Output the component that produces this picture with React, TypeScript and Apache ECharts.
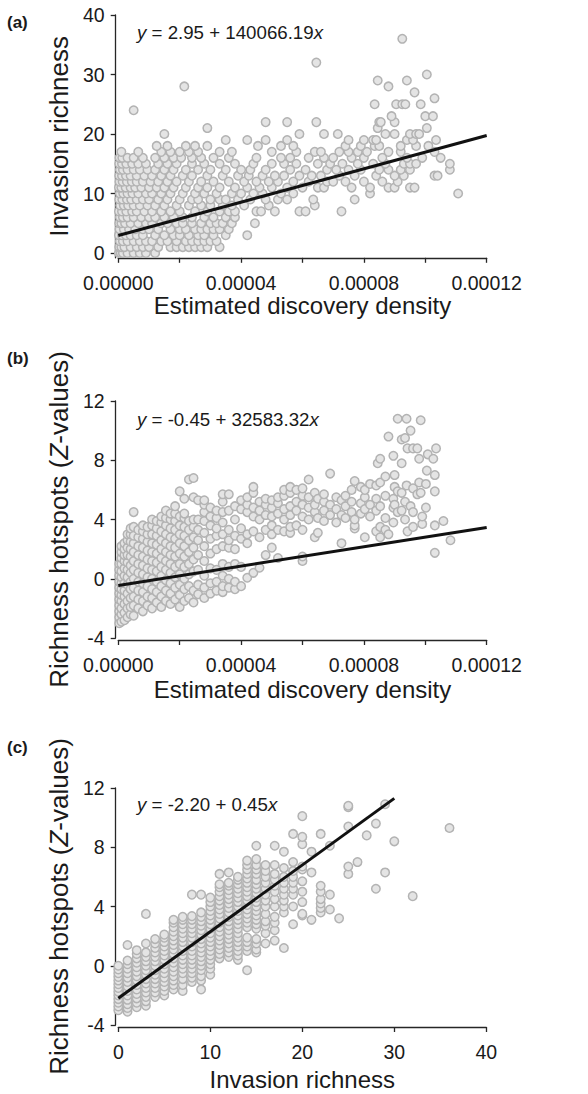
import React, { useEffect, useRef } from "react";
import * as echarts from "echarts";

const FONT = '"Liberation Sans", Arial, Helvetica, sans-serif';

// ---------- Panel (a): invasion richness rows; densities in units of 1e-6 ----------
const aRows: [number, number[]][] = [
  [0, [0.2, 0.8, 1.5, 3, 5, 7, 9, 12]],
  [1, [0.3, 1, 2, 4, 6, 8, 10, 13, 17, 19, 21, 23, 25, 27, 29, 33]],
  [2, [0.5, 1.5, 3, 5, 7, 9, 11, 14, 16, 19, 22, 24, 26, 28, 30, 32]],
  [3, [0.2, 1.2, 2.5, 4, 6, 8, 12, 15, 18, 20, 23, 26, 28, 31, 35, 42]],
  [4, [0.4, 1.8, 3.5, 5.5, 8, 10, 13, 17, 20, 22, 25, 27, 29, 31, 33, 36]],
  [5, [0.3, 1, 2.2, 4, 6.5, 9, 11, 14, 16, 19, 21, 24, 27, 30, 32, 34, 37, 44.5]],
  [6, [0.5, 1.5, 3, 5, 7.5, 10, 12, 15, 18, 21, 24, 28, 31, 35, 38]],
  [7, [0.2, 1.2, 2.6, 4.5, 6, 8.5, 11, 14, 17, 20, 25, 29, 33, 36, 38, 45, 46.5, 51, 59, 61, 72.7]],
  [8, [0.6, 1.8, 3.2, 5, 7, 9.5, 12, 15, 19, 23, 27, 30, 34, 37, 41, 49, 64]],
  [9, [0.3, 1.3, 2.8, 4.2, 6, 8, 10, 13, 16, 20, 24, 26, 30, 33, 35, 39, 43, 48, 52, 55, 63.5, 77]],
  [10, [0.5, 1.6, 3, 4.6, 6.5, 9, 11, 14, 17, 21, 25, 28, 32, 37, 40, 44, 47, 53, 57, 82, 110.7]],
  [11, [0.2, 1, 2.4, 4, 5.5, 7.5, 10, 12.5, 15, 18, 22, 26, 29, 33, 38, 42, 46, 50, 55, 60, 65, 67, 76, 82, 88, 90, 95, 96.5]],
  [12, [0.4, 1.4, 2.8, 4.4, 6, 8, 10.5, 13, 16, 19, 23, 27, 31, 36, 41, 45, 49, 52, 57, 62, 68, 70, 74, 80, 86, 91]],
  [13, [0.3, 1.2, 2.5, 4, 6, 8.5, 11, 14, 17, 21, 24, 29, 34, 39, 42.5, 47, 51, 54, 59, 63, 66, 72, 77, 84, 90, 93, 103, 104]],
  [14, [0.5, 1.5, 3, 5, 7, 9.5, 12, 15, 18, 22, 26, 30, 35, 40, 43, 48, 56, 61, 68, 71, 75, 79, 85, 88, 92, 95, 108]],
  [15, [0.3, 1.2, 2.6, 4.5, 6.5, 9, 13, 16, 19, 24, 28, 33, 38, 44, 50, 54, 58, 65, 69, 73, 78, 83, 87, 93, 95, 97, 108]],
  [16, [0.4, 1.3, 3, 5, 8, 12, 15, 18, 20.5, 24, 27, 31, 36, 45, 53, 56, 62, 67, 70, 76, 80, 86, 94, 99, 105]],
  [17, [1, 6.5, 14, 17, 20, 23, 26, 33, 37, 50, 58, 64, 66, 72, 75, 78, 81, 88, 92, 103]],
  [18, [12.5, 16, 22, 25, 29, 45.5, 53, 57, 74, 79, 83.5, 85, 92, 97, 101]],
  [19, [35, 42, 48, 55, 75, 80, 83, 84, 94, 96, 103.5]],
  [20, [15, 59, 67, 71.5, 87, 90, 95, 97, 98]],
  [21, [29, 84.5, 100.5]],
  [22, [48, 55, 64.5, 85, 85.5, 90]],
  [23, [89, 100, 102.5]],
  [24, [5]],
  [25, [83.5, 90.5, 92.5, 93.5, 98.5]],
  [26, [103]],
  [27, [96.5]],
  [28, [21.5, 88]],
  [29, [84.5, 94]],
  [30, [100.5]],
  [32, [64.5]],
  [36, [92.5]],
];

// ---------- Panel (b): columns by density (1e-6) with Z-values ----------
const bCols: [number, number[]][] = [
  [0.3, [-3.0, -2.6, -2.2, -1.8, -1.4, -1.0, -0.6, -0.2, 0.2, 0.6, 1.0]],
  [1, [-2.9, -2.4, -2.0, -1.5, -1.1, -0.7, -0.3, 0.1, 0.5, 1.0, 1.4, 1.8, 2.2]],
  [2, [-2.8, -2.3, -1.7, -1.2, -0.8, -0.3, 0.2, 0.7, 1.2, 1.6, 2.0, 2.4]],
  [3, [-2.6, -2.0, -1.5, -1.0, -0.4, 0.1, 0.6, 1.1, 1.6, 2.1, 2.6, 3.0]],
  [4, [-2.4, -1.9, -1.3, -0.7, -0.2, 0.4, 0.9, 1.5, 2.0, 2.5, 3.0, 3.4]],
  [5, [-2.5, -1.8, -1.2, -0.6, 0, 0.6, 1.2, 1.8, 2.4, 2.9, 3.5, 4.5]],
  [6.5, [-2.0, -1.4, -0.8, -0.2, 0.4, 1.0, 1.6, 2.2, 2.8, 3.3]],
  [8, [-2.2, -1.5, -0.9, -0.3, 0.3, 0.9, 1.5, 2.1, 2.7, 3.2, 3.6]],
  [9.5, [-1.8, -1.2, -0.5, 0.1, 0.7, 1.3, 1.9, 2.5, 3.0, 3.5]],
  [11, [-2.0, -1.3, -0.7, 0, 0.6, 1.2, 1.8, 2.4, 3.0, 3.6, 4.0]],
  [12.5, [-1.6, -0.9, -0.2, 0.5, 1.1, 1.7, 2.3, 2.9, 3.4, 3.9]],
  [14, [-1.9, -1.2, -0.5, 0.2, 0.8, 1.4, 2.0, 2.6, 3.2, 3.8, 4.2]],
  [15.5, [-1.5, -0.8, -0.1, 0.6, 1.2, 1.8, 2.4, 3.0, 3.6, 4.1, 4.6]],
  [17, [-1.7, -1.0, -0.3, 0.4, 1.0, 1.6, 2.2, 2.8, 3.4, 4.0, 4.4]],
  [18.5, [-1.4, -0.6, 0.1, 0.8, 1.5, 2.1, 2.7, 3.3, 3.9, 4.4, 4.9]],
  [20, [-1.9, -1.1, -0.4, 0.3, 1.0, 1.7, 2.4, 3.0, 3.6, 4.2, 5.9]],
  [21.5, [-1.5, -0.7, 0, 0.8, 1.5, 2.2, 2.9, 3.5, 4.1, 4.4, 5.4]],
  [23, [-1.3, -0.5, 0.3, 1.0, 1.8, 2.6, 3.3, 3.9, 6.7]],
  [24.5, [-1.6, -0.8, 0.5, 1.3, 2.1, 2.8, 3.5, 4.0, 5.5, 6.8]],
  [26, [-1.05, -0.4, 0.6, 1.6, 2.6, 3.3, 4.0, 5.3]],
  [28, [-1.3, -0.6, 0.2, 1.2, 2.2, 3.1, 3.9, 4.5, 5.0, 5.3]],
  [30, [-1.0, -0.3, 0.7, 1.7, 2.7, 3.6, 4.2, 4.8]],
  [32, [-0.8, -0.2, 0.6, 2.0, 2.9, 3.4, 4.1, 4.6]],
  [34, [-0.9, -0.5, 0.2, 1.0, 2.2, 3.0, 3.8, 4.5, 5.2, 5.7]],
  [36, [-0.6, 0.0, 0.8, 2.1, 2.6, 3.3, 4.6, 5.7]],
  [38, [-0.7, -0.2, 1.0, 2.0, 2.9, 4.0, 4.9]],
  [40, [-0.5, 0.8, 2.7, 3.4, 4.7, 5.3]],
  [42, [0.07, 2.4, 3.0, 4.5, 5.0, 5.5]],
  [44, [0.4, 3.2, 4.2, 4.8, 5.8, 6.2]],
  [46, [0.74, 2.8, 4.0, 4.6, 5.2]],
  [48, [1.6, 3.3, 4.3, 5.0, 5.4]],
  [50, [2.1, 3.0, 3.6, 4.2, 4.8, 5.3]],
  [52, [1.4, 3.3, 4.4, 5.1, 5.5]],
  [54, [3.2, 4.0, 4.7, 5.6, 6.0]],
  [56, [3.1, 3.5, 4.3, 4.9, 5.8, 6.2]],
  [58, [3.6, 4.6, 5.2, 6.0]],
  [60, [1.2, 1.5, 3.3, 4.2, 5.0, 5.6, 6.1]],
  [62, [4.0, 4.8, 5.5, 6.7]],
  [64, [2.8, 4.5, 5.0, 5.8]],
  [65, [3.1, 4.1, 5.4]],
  [67, [3.9, 4.6, 5.2, 5.7]],
  [69, [4.3, 5.0, 7.1]],
  [71, [3.8, 4.7, 5.5]],
  [72.7, [2.4, 4.3, 5.3]],
  [74, [4.1, 4.9, 5.6]],
  [76, [4.5, 5.2, 6.0]],
  [77, [3.4, 3.6, 4.0, 6.6]],
  [79, [4.4, 5.1, 6.2]],
  [80.3, [2.8, 4.7, 5.5, 6.0]],
  [82, [4.2, 5.0, 6.4]],
  [84, [3.2, 4.6, 5.4, 6.3]],
  [84.5, [7.8]],
  [85.3, [2.8, 3.5, 4.9, 6.5, 8.1]],
  [87, [3.3, 4.1, 5.6, 6.9]],
  [88, [3.0, 9.6]],
  [89.6, [3.8, 4.8, 5.4, 8.3]],
  [90, [5.0, 6.2, 7.0]],
  [91, [4.5, 5.9, 10.8]],
  [92.3, [4.6, 5.8, 7.8, 9.4]],
  [93.4, [4.0, 5.2, 9.5]],
  [93.9, [6.3, 10.8]],
  [94.2, [3.2, 8.8]],
  [95.2, [4.9, 10.0]],
  [96, [3.5, 4.5, 6.1, 8.8]],
  [97.4, [5.7, 8.8]],
  [98, [6.5, 8.1]],
  [98.5, [5.8, 10.7]],
  [99, [3.7, 4.2]],
  [100.2, [4.8, 6.4]],
  [100.5, [7.3]],
  [100.8, [8.4]],
  [102.6, [8.1]],
  [103.1, [1.75, 3.6, 5.9, 7.0]],
  [103.5, [8.8]],
  [105.9, [3.9]],
  [108.2, [2.6]],
];

// ---------- Panel (c): columns by invasion richness with Z-values ----------
const cCols: [number, number[]][] = [
  [0, [-3.0, -2.75, -2.5, -2.25, -2.0, -1.75, -1.5, -1.25, -1.0, -0.75, -0.5, -0.25, 0.0]],
  [1, [-3.1, -2.85, -2.6, -2.3, -2.0, -1.7, -1.4, -1.1, -0.8, -0.5, -0.2, 0.1, 0.35, 1.4]],
  [2, [-2.8, -2.5, -2.2, -1.9, -1.6, -1.3, -1.0, -0.7, -0.4, -0.1, 0.2, 0.5, 0.8, 1.05]],
  [3, [-2.7, -2.4, -2.1, -1.8, -1.5, -1.2, -0.9, -0.6, -0.3, 0.0, 0.3, 0.6, 0.9, 1.5, 3.5]],
  [4, [-2.1, -1.8, -1.5, -1.2, -0.9, -0.6, -0.3, 0.0, 0.3, 0.6, 0.9, 1.2, 1.5, 1.8]],
  [5, [-2.0, -1.7, -1.4, -1.1, -0.8, -0.5, -0.2, 0.1, 0.4, 0.7, 1.0, 1.3, 1.6, 1.9, 2.1]],
  [6, [-1.6, -1.3, -1.0, -0.7, -0.4, -0.1, 0.2, 0.5, 0.8, 1.1, 1.4, 1.7, 2.0, 2.3, 2.6, 2.9, 3.1]],
  [7, [-1.7, -1.3, -0.9, -0.5, -0.2, 0.1, 0.4, 0.7, 1.0, 1.3, 1.6, 1.9, 2.2, 2.5, 2.8, 3.1, 3.3]],
  [8, [-1.1, -0.8, -0.5, -0.2, 0.1, 0.4, 0.7, 1.0, 1.3, 1.6, 1.9, 2.2, 2.5, 2.8, 3.1, 3.35, 4.8]],
  [9, [-1.6, -1.0, -0.7, -0.3, 0.0, 0.3, 0.6, 0.9, 1.2, 1.5, 1.8, 2.1, 2.4, 2.7, 3.0, 3.3, 3.6, 4.8]],
  [10, [-0.6, -0.2, 0.1, 0.4, 0.7, 1.0, 1.3, 1.6, 1.9, 2.2, 2.5, 2.8, 3.1, 3.4, 3.7, 4.0, 4.3, 4.6]],
  [11, [0.5, 0.8, 1.1, 1.4, 1.7, 2.0, 2.3, 2.6, 2.9, 3.2, 3.5, 3.8, 4.1, 4.4, 4.7, 5.0, 5.3, 5.5, 6.2]],
  [12, [0.6, 0.9, 1.2, 1.5, 1.8, 2.1, 2.4, 2.7, 3.0, 3.3, 3.6, 3.9, 4.2, 4.5, 4.8, 5.1, 5.4, 5.6, 6.3]],
  [13, [0.4, 0.7, 1.0, 1.3, 1.6, 1.9, 2.2, 2.5, 2.8, 3.1, 3.4, 3.7, 4.0, 4.3, 4.6, 4.9, 5.2, 5.5, 5.8, 6.0]],
  [14, [-0.3, 1.0, 1.3, 1.6, 1.9, 2.6, 2.9, 3.2, 3.5, 3.8, 4.1, 4.4, 4.7, 5.0, 5.3, 5.6, 5.9, 6.2, 6.5, 6.8, 7.1]],
  [15, [0.9, 1.1, 1.5, 1.8, 2.5, 2.8, 3.1, 3.4, 3.7, 4.0, 4.3, 4.6, 4.9, 5.2, 5.5, 5.8, 6.2, 6.5, 6.8, 7.2, 8.1]],
  [16, [1.5, 2.2, 2.7, 3.0, 3.5, 4.0, 4.4, 4.8, 5.2, 5.6, 6.0, 6.4, 6.8]],
  [17, [1.7, 2.4, 2.9, 3.3, 4.0, 4.5, 5.0, 5.4, 5.8, 6.2, 6.8, 8.1]],
  [18, [1.2, 3.6, 4.0, 4.4, 4.8, 5.2, 5.6, 6.0, 6.6, 7.7]],
  [19, [2.8, 4.0, 4.8, 5.2, 5.6, 6.0, 6.4, 7.0, 8.9]],
  [20, [3.4, 3.5, 4.3, 5.0, 5.7, 6.5, 6.7, 8.2, 8.7, 10.1]],
  [21, [3.1, 6.3, 7.7]],
  [22, [3.6, 3.9, 4.2, 4.5, 5.0, 5.4, 8.9]],
  [23, [3.8, 4.8, 8.1]],
  [24, [3.2]],
  [25, [6.2, 6.7, 9.4, 10.7, 10.8]],
  [26, [7.0]],
  [27, [8.8]],
  [28, [5.2, 9.6]],
  [29, [6.3, 10.9]],
  [30, [8.4]],
  [32, [4.7]],
  [36, [9.3]],
];

// ---------- Axis ticks / labels ----------
const densityTicks = [0, 0.00002, 0.00004, 0.00006, 0.00008, 0.0001, 0.00012];
const densityLabels = [0, 0.00004, 0.00008, 0.00012];
const richnessTicks = [0, 10, 20, 30, 40];
const zTicks = [-4, 0, 4, 8, 12];

// ---------- Fitted regressions (from printed equations) ----------
const fitA = { intercept: 2.95, slope: 140066.19, xMax: 0.00012, text: "{i|y} = 2.95 + 140066.19{i|x}" };
const fitB = { intercept: -0.45, slope: 32583.32, xMax: 0.00012, text: "{i|y} = -0.45 + 32583.32{i|x}" };
const fitC = { intercept: -2.2, slope: 0.45, xMax: 30, text: "{i|y} = -2.20 + 0.45{i|x}" };

const DENSITY_UNIT = 1e-6;

function rowsToPoints(rows: [number, number[]][]) {
  const pts: number[][] = [];
  rows.forEach(([y, xs]) => xs.forEach((x) => pts.push([x * DENSITY_UNIT, y])));
  return pts;
}
function colsToPoints(cols: [number, number[]][], unit: number) {
  const pts: number[][] = [];
  cols.forEach(([x, ys]) => ys.forEach((y) => pts.push([x * unit, y])));
  return pts;
}
function fitLine(f: { intercept: number; slope: number; xMax: number }) {
  return [
    [0, f.intercept],
    [f.xMax, f.intercept + f.slope * f.xMax],
  ];
}

const AXIS_COLOR = "#262626";
const TEXT_COLOR = "#1a1a1a";
const TICK_FONT = 19.5;

const scatterStyle = {
  type: "scatter",
  symbol: "circle",
  symbolSize: 8.5,
  itemStyle: { color: "#e4e4e4", borderColor: "#b3b3b3", borderWidth: 1.5, opacity: 1 },
  silent: true,
  z: 2,
};
const lineStyle = {
  type: "line",
  symbol: "none",
  lineStyle: { color: "#111", width: 3 },
  silent: true,
  z: 5,
};

function xAxisBase(extra: any) {
  return {
    type: "value",
    axisLine: { show: true, onZero: false, lineStyle: { color: AXIS_COLOR, width: 1.3 } },
    axisTick: { show: true, inside: false, length: 5, lineStyle: { color: AXIS_COLOR, width: 1.3 } },
    splitLine: { show: false },
    nameLocation: "middle",
    nameTextStyle: { fontSize: 24, fontFamily: FONT, color: TEXT_COLOR },
    ...extra,
    axisLabel: { fontSize: TICK_FONT, fontFamily: FONT, color: TEXT_COLOR, margin: 15, ...(extra.axisLabel || {}) },
  };
}
function yAxisBase(extra: any) {
  return {
    type: "value",
    offset: 2.6,
    axisLine: { show: true, onZero: false, lineStyle: { color: AXIS_COLOR, width: 1.3 } },
    axisTick: { show: true, inside: false, length: 5, lineStyle: { color: AXIS_COLOR, width: 1.3 } },
    splitLine: { show: false },
    nameLocation: "middle",
    nameRotate: 90,
    nameGap: 43,
    nameTextStyle: {
      fontSize: 26,
      fontFamily: FONT,
      color: TEXT_COLOR,
      rich: { i: { fontSize: 26, fontFamily: FONT, fontStyle: "italic", color: TEXT_COLOR } },
    },
    ...extra,
    axisLabel: { fontSize: TICK_FONT, fontFamily: FONT, color: TEXT_COLOR, margin: 11, ...(extra.axisLabel || {}) },
  };
}

const fmtDensity = (v: number) => v.toFixed(5);

function eqText(text: string, y: number) {
  return {
    type: "text",
    x: 137,
    y,
    style: {
      text,
      fontSize: 18.7,
      fontFamily: FONT,
      fill: TEXT_COLOR,
      verticalAlign: "middle",
      align: "left",
      rich: { i: { fontSize: 18.7, fontFamily: FONT, fontStyle: "italic", fill: TEXT_COLOR } },
    },
  };
}
function panelLabel(text: string, y: number) {
  return {
    type: "text",
    x: 7,
    y,
    style: { text, fontSize: 17, fontWeight: "bold", fontFamily: FONT, fill: TEXT_COLOR, verticalAlign: "middle" },
  };
}

export default function App() {
  const ref = useRef<HTMLDivElement>(null);
  useEffect(() => {
    if (!ref.current) return;
    const chart = echarts.init(ref.current, undefined, { renderer: "svg" });
    const option: any = {
      animation: false,
      backgroundColor: "#ffffff",
      grid: [
        { left: 118.3, top: 15, width: 368.4, height: 242.8 },
        { left: 118.3, top: 401, width: 368.4, height: 237 },
        { left: 118.3, top: 788, width: 368, height: 237 },
      ],
      xAxis: [
        xAxisBase({
          gridIndex: 0,
          min: 0,
          max: 0.00012,
          offset: 0,
          name: "Estimated discovery density",
          nameGap: 32,
          axisTick: { show: true, length: 5, customValues: densityTicks, lineStyle: { color: AXIS_COLOR, width: 1.3 } },
          axisLabel: { customValues: densityLabels, formatter: fmtDensity },
        }),
        xAxisBase({
          gridIndex: 1,
          min: 0,
          max: 0.00012,
          offset: 2,
          name: "Estimated discovery density",
          nameGap: 37,
          axisTick: { show: true, length: 5, customValues: densityTicks, lineStyle: { color: AXIS_COLOR, width: 1.3 } },
          axisLabel: { customValues: densityLabels, formatter: fmtDensity },
        }),
        xAxisBase({
          gridIndex: 2,
          min: 0,
          max: 40,
          interval: 10,
          offset: 2,
          name: "Invasion richness",
          nameGap: 40,
        }),
      ],
      yAxis: [
        yAxisBase({
          gridIndex: 0,
          min: -0.8,
          max: 40,
          name: "Invasion richness",
          axisTick: { show: true, length: 5, customValues: richnessTicks, lineStyle: { color: AXIS_COLOR, width: 1.3 } },
          axisLabel: { customValues: richnessTicks },
        }),
        yAxisBase({
          gridIndex: 1,
          min: -4,
          max: 12,
          interval: 4,
          name: "Richness hotspots ({i|Z}-values)",
          axisLabel: { customValues: zTicks },
        }),
        yAxisBase({
          gridIndex: 2,
          min: -4,
          max: 12,
          interval: 4,
          name: "Richness hotspots ({i|Z}-values)",
          axisLabel: { customValues: zTicks },
        }),
      ],
      series: [
        { ...scatterStyle, xAxisIndex: 0, yAxisIndex: 0, data: rowsToPoints(aRows) },
        { ...lineStyle, xAxisIndex: 0, yAxisIndex: 0, data: fitLine(fitA) },
        { ...scatterStyle, xAxisIndex: 1, yAxisIndex: 1, data: colsToPoints(bCols, DENSITY_UNIT) },
        { ...lineStyle, xAxisIndex: 1, yAxisIndex: 1, data: fitLine(fitB) },
        { ...scatterStyle, xAxisIndex: 2, yAxisIndex: 2, data: colsToPoints(cCols, 1) },
        { ...lineStyle, xAxisIndex: 2, yAxisIndex: 2, data: fitLine(fitC) },
      ],
      graphic: [
        panelLabel("(a)", 22),
        panelLabel("(b)", 358),
        panelLabel("(c)", 747),
        eqText(fitA.text, 32),
        eqText(fitB.text, 419),
        eqText(fitC.text, 804),
      ],
    };
    chart.setOption(option);
    return () => chart.dispose();
  }, []);
  return (
    <div
      ref={ref}
      style={{ position: "absolute", left: 0, top: 0, width: 588, height: 1094, background: "#fff" }}
    />
  );
}
